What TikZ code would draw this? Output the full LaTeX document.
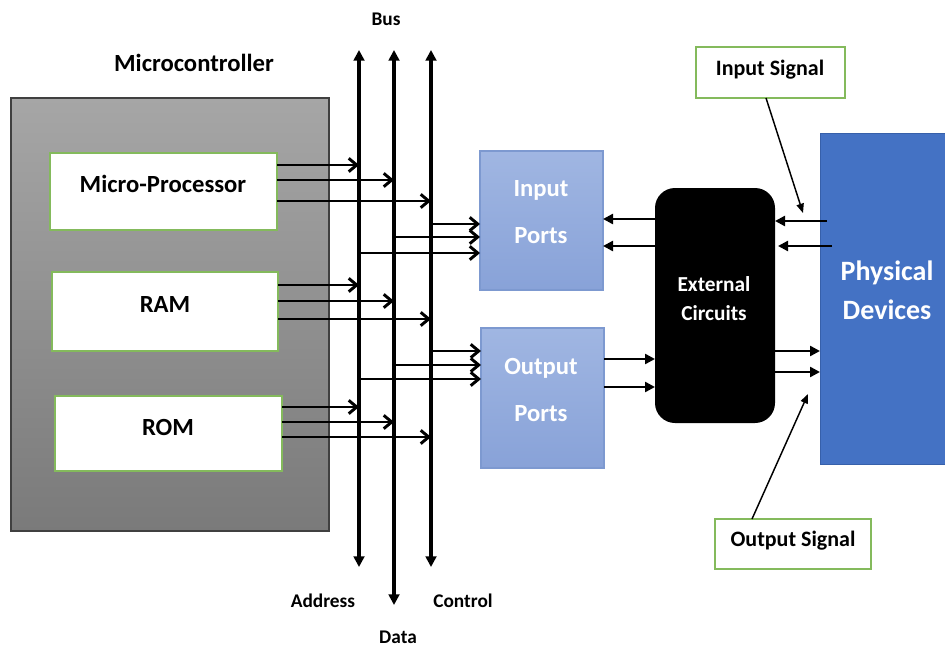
\documentclass[tikz,border=0pt]{standalone}
\usepackage{fontspec}
\setmainfont{Carlito}
\usetikzlibrary{arrows.meta,fit,calc}

\definecolor{mcTop}{RGB}{166,166,166}
\definecolor{mcBot}{RGB}{122,122,122}
\definecolor{leaf}{RGB}{132,186,92}
\definecolor{portTop}{RGB}{160,182,226}
\definecolor{portBot}{RGB}{136,162,216}
\definecolor{portEdge}{RGB}{125,153,208}
\definecolor{devBlue}{RGB}{68,114,196}
\definecolor{devEdge}{RGB}{55,96,170}

\begin{document}
\begin{tikzpicture}[x=0.75pt,y=-0.75pt,
  every node/.style={font=\bfseries},
  area/.style={inner sep=0pt, outer sep=0pt},
  mcbox/.style={area, draw=black!75, line width=0.8pt, top color=mcTop, bottom color=mcBot},
  unitbox/.style={area, draw=leaf, line width=1.1pt, fill=white},
  portbox/.style={area, draw=portEdge, line width=0.8pt, top color=portTop, bottom color=portBot},
  circbox/.style={area, fill=black, rounded corners=15pt},
  devbox/.style={area, draw=devEdge, line width=0.6pt, fill=devBlue},
  sigbox/.style={area, draw=leaf, line width=1.1pt, fill=white},
  bigtxt/.style={font=\fontsize{18.5}{20}\selectfont\bfseries},
  bustxt/.style={font=\fontsize{14.5}{16}\selectfont\bfseries},
  sigtxt/.style={font=\fontsize{16.5}{18}\selectfont\bfseries},
  porttxt/.style={bigtxt, text=white},
  exttxt/.style={font=\fontsize{16}{18}\selectfont\bfseries, text=white},
  devtxt/.style={font=\fontsize{21}{24}\selectfont\bfseries, text=white},
  busline/.style={line width=2.4pt, {Triangle[length=8pt,width=8pt]}-{Triangle[length=8pt,width=8pt]}},
  feed/.style={line width=2.2pt, -{Straight Barb[length=6pt,width=10pt,line width=2.2pt]}},
  link/.style={line width=1.8pt, -{Triangle[length=7.5pt,width=7.5pt]}},
  sig/.style={line width=1.1pt, -{Triangle[length=7pt,width=5.5pt]}}
]
\useasboundingbox (0,0) rectangle (945,649);

% ---- microcontroller and its units
\node[mcbox, fit={(11,98) (329,531)}] (mc) {};
\node[bigtxt] (mctitle) at (194,63) {Microcontroller};

\node[unitbox, fit={(50,153) (277,230)}] (mp) {};
\node[unitbox, fit={(52,272) (278,351)}] (ram) {};
\node[unitbox, fit={(55,396) (282,471)}] (rom) {};
\node[bigtxt] (mplbl) at (163,184) {Micro-Processor};
\node[bigtxt] (ramlbl) at (165,305) {RAM};
\node[bigtxt] (romlbl) at (168,427) {ROM};

% ---- system bus
\coordinate (addrT) at (359,50);
\coordinate (addrB) at (359,567);
\coordinate (dataT) at (394,50);
\coordinate (dataB) at (394,605);
\coordinate (ctrlT) at (431,50);
\coordinate (ctrlB) at (431,567);
\draw[busline] (addrT) -- (addrB);
\draw[busline] (dataT) -- (dataB);
\draw[busline] (ctrlT) -- (ctrlB);

\node[bustxt] (bus) at (386,19) {Bus};
\node[bustxt] (addr) at (323,601) {Address};
\node[bustxt] (ctrl) at (463,601) {Control};
\node[bustxt] (data) at (398,637) {Data};

% ---- ports
\node[portbox, fit={(480,151) (603,290)}] (inp) {};
\node[portbox, fit={(481,328) (604,468)}] (outp) {};
\node[porttxt] at (541,190) {Input};
\node[porttxt] at (541,236) {Ports};
\node[porttxt] at (541,368) {Output};
\node[porttxt] at (541,414) {Ports};

% ---- units onto the bus
\draw[feed] (mp.east |- 0,165) -- (addrT |- 0,165);
\draw[feed] (mp.east |- 0,180) -- (dataT |- 0,180);
\draw[feed] (mp.east |- 0,201) -- (ctrlT |- 0,201);
\draw[feed] (ram.east |- 0,285) -- (addrT |- 0,285);
\draw[feed] (ram.east |- 0,301) -- (dataT |- 0,301);
\draw[feed] (ram.east |- 0,319) -- (ctrlT |- 0,319);
\draw[feed] (rom.east |- 0,407) -- (addrT |- 0,407);
\draw[feed] (rom.east |- 0,422) -- (dataT |- 0,422);
\draw[feed] (rom.east |- 0,437) -- (ctrlT |- 0,437);

% ---- bus into the ports
\draw[feed] (ctrlT |- 0,224) -- (inp.west |- 0,224);
\draw[feed] (dataT |- 0,237) -- (inp.west |- 0,237);
\draw[feed] (addrT |- 0,253) -- (inp.west |- 0,253);
\draw[feed] (ctrlT |- 0,351) -- (outp.west |- 0,351);
\draw[feed] (dataT |- 0,365) -- (outp.west |- 0,365);
\draw[feed] (addrT |- 0,379) -- (outp.west |- 0,379);

% ---- external circuits and devices
\node[circbox, fit={(655,188) (775,423)}] (ext) {};
\node[exttxt] at (714,284) {External};
\node[exttxt] at (714,313) {Circuits};

\node[devbox, fit={(820,133) (950,464)}] (dev) {};
\node[devtxt] at (887,273) {Physical};
\node[devtxt] at (887,310) {Devices};

\coordinate (devIn1) at (827,221);
\coordinate (devIn2) at (832,246);
\draw[link] (ext.west |- 0,219) -- (inp.east |- 0,219);
\draw[link] (ext.west |- 0,246) -- (inp.east |- 0,246);
\draw[link] (outp.east |- 0,359) -- (ext.west |- 0,359);
\draw[link] (outp.east |- 0,387) -- (ext.west |- 0,387);
\draw[link] (devIn1) -- (ext.east |- devIn1);
\draw[link] (devIn2) -- ($(ext.east |- devIn2)+(3,0)$);
\draw[link] (ext.east |- 0,351) -- (dev.west |- 0,351);
\draw[link] (ext.east |- 0,372) -- (dev.west |- 0,372);

% ---- signal callouts
\node[sigbox, fit={(696,47) (845,98)}] (insig) {};
\node[sigtxt] at (770,70) {Input Signal};
\node[sigbox, fit={(715,519) (871,569)}] (outsig) {};
\node[sigtxt] at (793,541) {Output Signal};

\coordinate (inTip) at (803,213);
\coordinate (outTip) at (808,394);
\draw[sig] (insig.south -| 766,0) -- (inTip);
\draw[sig] (outsig.north -| 752,0) -- (outTip);
\end{tikzpicture}
\end{document}
